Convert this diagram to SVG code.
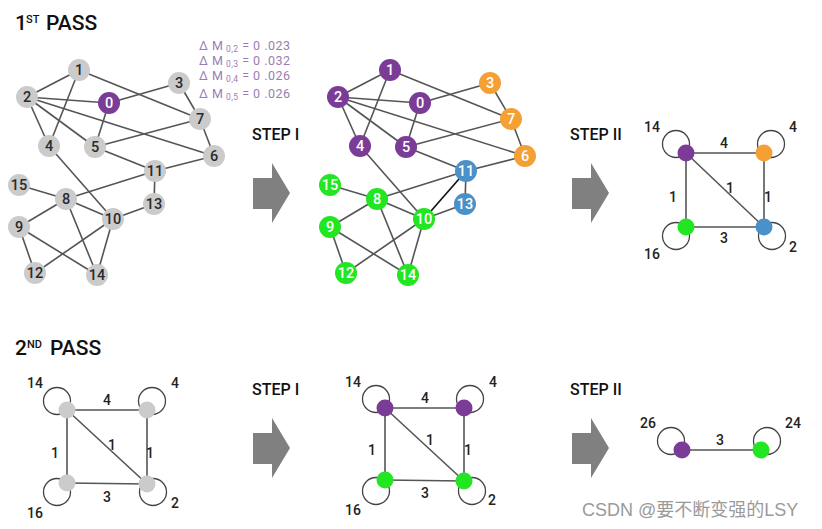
<svg xmlns="http://www.w3.org/2000/svg" xmlns:xlink="http://www.w3.org/1999/xlink" width="822" height="529" viewBox="0 0 822 529">
<style>
.bg{fill:#ffffff}
.e{stroke:#555;stroke-width:1.6;fill:none}
.eb{stroke:#111;stroke-width:1.6;fill:none}
.loop{stroke:#444;stroke-width:1.3;fill:none}
.gray{fill:#cbcbcb}
.pur{fill:#7b3c97}
.org{fill:#f4a035}
.blu{fill:#4a90c9}
.grn{fill:#22e622}
.nl{font-family:Roboto,"Liberation Sans",sans-serif;font-size:14.5px;font-weight:500;text-anchor:middle}
.nd{fill:#2a2a2a}
.nw{fill:#fff}
.lab{font-family:Roboto,"Liberation Sans",sans-serif;font-size:14px;font-weight:500;fill:#222;text-anchor:middle}
.title{font-family:Roboto,"Liberation Sans",sans-serif;font-size:21px;font-weight:500;fill:#111}
.sup{font-family:Roboto,"Liberation Sans",sans-serif;font-size:11px;font-weight:500;fill:#111}
.step{font-family:Roboto,"Liberation Sans",sans-serif;font-size:16px;font-weight:500;fill:#111}
.dm{font-family:Roboto,"Liberation Sans",sans-serif;font-size:12.5px;fill:#9b7cb2}
.sub{font-size:8.5px}
.arrow{fill:#808080}
.wm{font-family:"Liberation Sans","Noto Sans CJK SC",sans-serif;font-size:18px;fill:#9a9a9a}
</style>
<defs>
<path id="arr" d="M0,15 H19 V0 L37,30 L19,60 V46 H0 Z"/>
</defs>
<rect class="bg" width="822" height="529"/>

<!-- titles -->
<text class="title" x="15" y="30">1</text><text class="sup" x="26" y="23">ST</text><text class="title" x="46" y="30">PASS</text>
<text class="title" x="15" y="355">2</text><text class="sup" x="27" y="348">ND</text><text class="title" x="50" y="355">PASS</text>

<g id="delta-m">
<text class="dm" x="199" y="50" textLength="91" lengthAdjust="spacing">Δ M<tspan class="sub" dy="2"> 0,2</tspan><tspan dy="-2"> = 0 .023</tspan></text>
<text class="dm" x="199" y="65" textLength="91" lengthAdjust="spacing">Δ M<tspan class="sub" dy="2"> 0,3</tspan><tspan dy="-2"> = 0 .032</tspan></text>
<text class="dm" x="199" y="80" textLength="91" lengthAdjust="spacing">Δ M<tspan class="sub" dy="2"> 0,4</tspan><tspan dy="-2"> = 0 .026</tspan></text>
<text class="dm" x="199" y="98" textLength="91" lengthAdjust="spacing">Δ M<tspan class="sub" dy="2"> 0,5</tspan><tspan dy="-2"> = 0 .026</tspan></text>
</g>

<!-- steps -->
<text class="step" x="252" y="140">STEP I</text>
<text class="step" x="570" y="140">STEP II</text>
<text class="step" x="252" y="395">STEP I</text>
<text class="step" x="570" y="395">STEP II</text>
<use class="arrow" href="#arr" xlink:href="#arr" x="253" y="163"/>
<use class="arrow" href="#arr" xlink:href="#arr" x="572" y="163"/>
<use class="arrow" href="#arr" xlink:href="#arr" x="253" y="418"/>
<use class="arrow" href="#arr" xlink:href="#arr" x="572" y="418"/>

<!-- ===== Graph A (1st pass, original) ===== -->
<g id="connectors-a">
<line class="e" x1="79" y1="70" x2="27" y2="97"/>
<line class="e" x1="79" y1="70" x2="49" y2="146"/>
<line class="e" x1="79" y1="70" x2="200" y2="119"/>
<line class="e" x1="27" y1="97" x2="109" y2="103"/>
<line class="e" x1="27" y1="97" x2="49" y2="146"/>
<line class="e" x1="27" y1="97" x2="95" y2="147"/>
<line class="e" x1="27" y1="97" x2="214" y2="156"/>
<line class="e" x1="109" y1="103" x2="179" y2="83"/>
<line class="e" x1="109" y1="103" x2="95" y2="147"/>
<line class="e" x1="179" y1="83" x2="200" y2="119"/>
<line class="e" x1="200" y1="119" x2="214" y2="156"/>
<line class="e" x1="200" y1="119" x2="95" y2="147"/>
<line class="e" x1="95" y1="147" x2="155" y2="171"/>
<line class="e" x1="214" y1="156" x2="155" y2="171"/>
<line class="e" x1="155" y1="171" x2="66" y2="199"/>
<line class="e" x1="155" y1="171" x2="154" y2="204"/>
<line class="e" x1="154" y1="204" x2="113" y2="219"/>
<line class="e" x1="49" y1="146" x2="113" y2="219"/>
<line class="e" x1="66" y1="199" x2="19" y2="185"/>
<line class="e" x1="66" y1="199" x2="113" y2="219"/>
<line class="e" x1="66" y1="199" x2="19" y2="227"/>
<line class="e" x1="66" y1="199" x2="97" y2="275"/>
<line class="e" x1="19" y1="227" x2="35" y2="273"/>
<line class="e" x1="19" y1="227" x2="97" y2="275"/>
<line class="e" x1="35" y1="273" x2="113" y2="219"/>
<line class="e" x1="113" y1="219" x2="97" y2="275"/>
</g>
<g id="a0"><circle class="pur" cx="109" cy="103" r="11"/><text class="nl nw" x="109" y="108">0</text></g>
<g id="a1"><circle class="gray" cx="79" cy="70" r="11"/><text class="nl nd" x="79" y="75">1</text></g>
<g id="a2"><circle class="gray" cx="27" cy="97" r="11"/><text class="nl nd" x="27" y="102">2</text></g>
<g id="a3"><circle class="gray" cx="179" cy="83" r="11"/><text class="nl nd" x="179" y="88">3</text></g>
<g id="a4"><circle class="gray" cx="49" cy="146" r="11"/><text class="nl nd" x="49" y="151">4</text></g>
<g id="a5"><circle class="gray" cx="95" cy="147" r="11"/><text class="nl nd" x="95" y="152">5</text></g>
<g id="a6"><circle class="gray" cx="214" cy="156" r="11"/><text class="nl nd" x="214" y="161">6</text></g>
<g id="a7"><circle class="gray" cx="200" cy="119" r="11"/><text class="nl nd" x="200" y="124">7</text></g>
<g id="a8"><circle class="gray" cx="66" cy="199" r="11"/><text class="nl nd" x="66" y="204">8</text></g>
<g id="a9"><circle class="gray" cx="19" cy="227" r="11"/><text class="nl nd" x="19" y="232">9</text></g>
<g id="a10"><circle class="gray" cx="113" cy="219" r="11"/><text class="nl nd" x="113" y="224">10</text></g>
<g id="a11"><circle class="gray" cx="155" cy="171" r="11"/><text class="nl nd" x="155" y="176">11</text></g>
<g id="a12"><circle class="gray" cx="35" cy="273" r="11"/><text class="nl nd" x="35" y="278">12</text></g>
<g id="a13"><circle class="gray" cx="154" cy="204" r="11"/><text class="nl nd" x="154" y="209">13</text></g>
<g id="a14"><circle class="gray" cx="97" cy="275" r="11"/><text class="nl nd" x="97" y="280">14</text></g>
<g id="a15"><circle class="gray" cx="19" cy="185" r="11"/><text class="nl nd" x="19" y="190">15</text></g>

<!-- ===== Graph B (1st pass, step I) ===== -->
<g transform="translate(311,0)">
<g id="connectors-b">
<line class="e" x1="79" y1="70" x2="27" y2="97"/>
<line class="e" x1="79" y1="70" x2="49" y2="146"/>
<line class="e" x1="79" y1="70" x2="200" y2="119"/>
<line class="e" x1="27" y1="97" x2="109" y2="103"/>
<line class="e" x1="27" y1="97" x2="49" y2="146"/>
<line class="e" x1="27" y1="97" x2="95" y2="147"/>
<line class="e" x1="27" y1="97" x2="214" y2="156"/>
<line class="e" x1="109" y1="103" x2="179" y2="83"/>
<line class="e" x1="109" y1="103" x2="95" y2="147"/>
<line class="e" x1="179" y1="83" x2="200" y2="119"/>
<line class="e" x1="200" y1="119" x2="214" y2="156"/>
<line class="e" x1="200" y1="119" x2="95" y2="147"/>
<line class="e" x1="95" y1="147" x2="155" y2="171"/>
<line class="e" x1="214" y1="156" x2="155" y2="171"/>
<line class="e" x1="155" y1="171" x2="66" y2="199"/>
<line class="e" x1="155" y1="171" x2="154" y2="204"/>
<line class="e" x1="154" y1="204" x2="113" y2="219"/>
<line class="e" x1="49" y1="146" x2="113" y2="219"/>
<line class="e" x1="66" y1="199" x2="19" y2="185"/>
<line class="e" x1="66" y1="199" x2="113" y2="219"/>
<line class="e" x1="66" y1="199" x2="19" y2="227"/>
<line class="e" x1="66" y1="199" x2="97" y2="275"/>
<line class="e" x1="19" y1="227" x2="35" y2="273"/>
<line class="e" x1="19" y1="227" x2="97" y2="275"/>
<line class="e" x1="35" y1="273" x2="113" y2="219"/>
<line class="e" x1="113" y1="219" x2="97" y2="275"/>
<line class="eb" x1="155" y1="171" x2="113" y2="219"/>
</g>
<g id="b0"><circle class="pur" cx="109" cy="103" r="11"/><text class="nl nw" x="109" y="108">0</text></g>
<g id="b1"><circle class="pur" cx="79" cy="70" r="11"/><text class="nl nw" x="79" y="75">1</text></g>
<g id="b2"><circle class="pur" cx="27" cy="97" r="11"/><text class="nl nw" x="27" y="102">2</text></g>
<g id="b3"><circle class="org" cx="179" cy="83" r="11"/><text class="nl nw" x="179" y="88">3</text></g>
<g id="b4"><circle class="pur" cx="49" cy="146" r="11"/><text class="nl nw" x="49" y="151">4</text></g>
<g id="b5"><circle class="pur" cx="95" cy="147" r="11"/><text class="nl nw" x="95" y="152">5</text></g>
<g id="b6"><circle class="org" cx="214" cy="156" r="11"/><text class="nl nw" x="214" y="161">6</text></g>
<g id="b7"><circle class="org" cx="200" cy="119" r="11"/><text class="nl nw" x="200" y="124">7</text></g>
<g id="b8"><circle class="grn" cx="66" cy="199" r="11"/><text class="nl nw" x="66" y="204">8</text></g>
<g id="b9"><circle class="grn" cx="19" cy="227" r="11"/><text class="nl nw" x="19" y="232">9</text></g>
<g id="b10"><circle class="grn" cx="113" cy="219" r="11"/><text class="nl nw" x="113" y="224">10</text></g>
<g id="b11"><circle class="blu" cx="155" cy="171" r="11"/><text class="nl nw" x="155" y="176">11</text></g>
<g id="b12"><circle class="grn" cx="35" cy="273" r="11"/><text class="nl nw" x="35" y="278">12</text></g>
<g id="b13"><circle class="blu" cx="154" cy="204" r="11"/><text class="nl nw" x="154" y="209">13</text></g>
<g id="b14"><circle class="grn" cx="97" cy="275" r="11"/><text class="nl nw" x="97" y="280">14</text></g>
<g id="b15"><circle class="grn" cx="19" cy="185" r="11"/><text class="nl nw" x="19" y="190">15</text></g>
</g>

<!-- ===== Graph C (1st pass, step II) ===== -->
<g id="connectors-c">
<circle class="loop" cx="676" cy="144" r="13.5"/>
<circle class="loop" cx="771" cy="144" r="13.5"/>
<circle class="loop" cx="676" cy="236" r="13.5"/>
<circle class="loop" cx="772" cy="236" r="13.5"/>
<line class="e" x1="686" y1="153" x2="764" y2="153"/>
<line class="e" x1="686" y1="153" x2="686" y2="227"/>
<line class="e" x1="764" y1="153" x2="764" y2="227"/>
<line class="e" x1="686" y1="227" x2="764" y2="227"/>
<line class="e" x1="686" y1="153" x2="764" y2="227"/>
</g>
<g id="c-purple"><circle class="pur" cx="686" cy="153" r="8.5"/></g>
<g id="c-orange"><circle class="org" cx="764" cy="153" r="8.5"/></g>
<g id="c-green"><circle class="grn" cx="686" cy="227" r="8.5"/></g>
<g id="c-blue"><circle class="blu" cx="764" cy="227" r="8.5"/></g>
<g id="c-labels">
<text class="lab" x="652" y="132">14</text>
<text class="lab" x="793" y="132">4</text>
<text class="lab" x="724" y="148">4</text>
<text class="lab" x="730" y="193">1</text>
<text class="lab" x="673" y="202">1</text>
<text class="lab" x="768" y="202">1</text>
<text class="lab" x="724" y="243">3</text>
<text class="lab" x="652" y="259">16</text>
<text class="lab" x="793" y="252">2</text>
</g>

<!-- ===== Graph D (2nd pass) ===== -->
<g id="connectors-d">
<circle class="loop" cx="57" cy="401" r="13.5"/>
<circle class="loop" cx="152" cy="401" r="13.5"/>
<circle class="loop" cx="57" cy="492" r="13.5"/>
<circle class="loop" cx="153" cy="492" r="13.5"/>
<line class="e" x1="67" y1="410" x2="147" y2="410"/>
<line class="e" x1="67" y1="410" x2="67" y2="483"/>
<line class="e" x1="147" y1="410" x2="147" y2="484"/>
<line class="e" x1="67" y1="483" x2="147" y2="484"/>
<line class="e" x1="67" y1="410" x2="147" y2="484"/>
</g>
<g id="d-tl"><circle class="gray" cx="67" cy="410" r="8.5"/></g>
<g id="d-tr"><circle class="gray" cx="147" cy="410" r="8.5"/></g>
<g id="d-bl"><circle class="gray" cx="67" cy="483" r="8.5"/></g>
<g id="d-br"><circle class="gray" cx="147" cy="484" r="8.5"/></g>
<g id="d-labels">
<text class="lab" x="35" y="388">14</text>
<text class="lab" x="175" y="388">4</text>
<text class="lab" x="107" y="405">4</text>
<text class="lab" x="112" y="450">1</text>
<text class="lab" x="55" y="458">1</text>
<text class="lab" x="150" y="458">1</text>
<text class="lab" x="107" y="502">3</text>
<text class="lab" x="35" y="518">16</text>
<text class="lab" x="175" y="508">2</text>
</g>

<!-- ===== Graph E (2nd pass, step I) ===== -->
<g id="connectors-e">
<circle class="loop" cx="376" cy="399" r="13.5"/>
<circle class="loop" cx="470" cy="399" r="13.5"/>
<circle class="loop" cx="376" cy="491" r="13.5"/>
<circle class="loop" cx="472" cy="491" r="13.5"/>
<line class="e" x1="385" y1="408" x2="464" y2="408"/>
<line class="e" x1="385" y1="408" x2="385" y2="480"/>
<line class="e" x1="464" y1="408" x2="464" y2="481"/>
<line class="e" x1="385" y1="480" x2="464" y2="481"/>
<line class="e" x1="385" y1="408" x2="464" y2="481"/>
</g>
<g id="e-tl"><circle class="pur" cx="385" cy="408" r="8.5"/></g>
<g id="e-tr"><circle class="pur" cx="464" cy="408" r="8.5"/></g>
<g id="e-bl"><circle class="grn" cx="385" cy="480" r="8.5"/></g>
<g id="e-br"><circle class="grn" cx="464" cy="481" r="8.5"/></g>
<g id="e-labels">
<text class="lab" x="353" y="387">14</text>
<text class="lab" x="493" y="387">4</text>
<text class="lab" x="425" y="403">4</text>
<text class="lab" x="430" y="445">1</text>
<text class="lab" x="372" y="455">1</text>
<text class="lab" x="468" y="455">1</text>
<text class="lab" x="425" y="498">3</text>
<text class="lab" x="353" y="515">16</text>
<text class="lab" x="492" y="505">2</text>
</g>

<!-- ===== Graph F (2nd pass, step II) ===== -->
<g id="connectors-f">
<circle class="loop" cx="671" cy="441" r="13.5"/>
<circle class="loop" cx="767" cy="441" r="13.5"/>
<line class="e" x1="682" y1="450" x2="761" y2="450"/>
</g>
<g id="f-purple"><circle class="pur" cx="682" cy="450" r="8.5"/></g>
<g id="f-green"><circle class="grn" cx="761" cy="450" r="8.5"/></g>
<g id="f-labels">
<text class="lab" x="648" y="428">26</text>
<text class="lab" x="793" y="428">24</text>
<text class="lab" x="720" y="445">3</text>
</g>

<text class="wm" x="582" y="516">CSDN @要不断变强的LSY</text>
</svg>
